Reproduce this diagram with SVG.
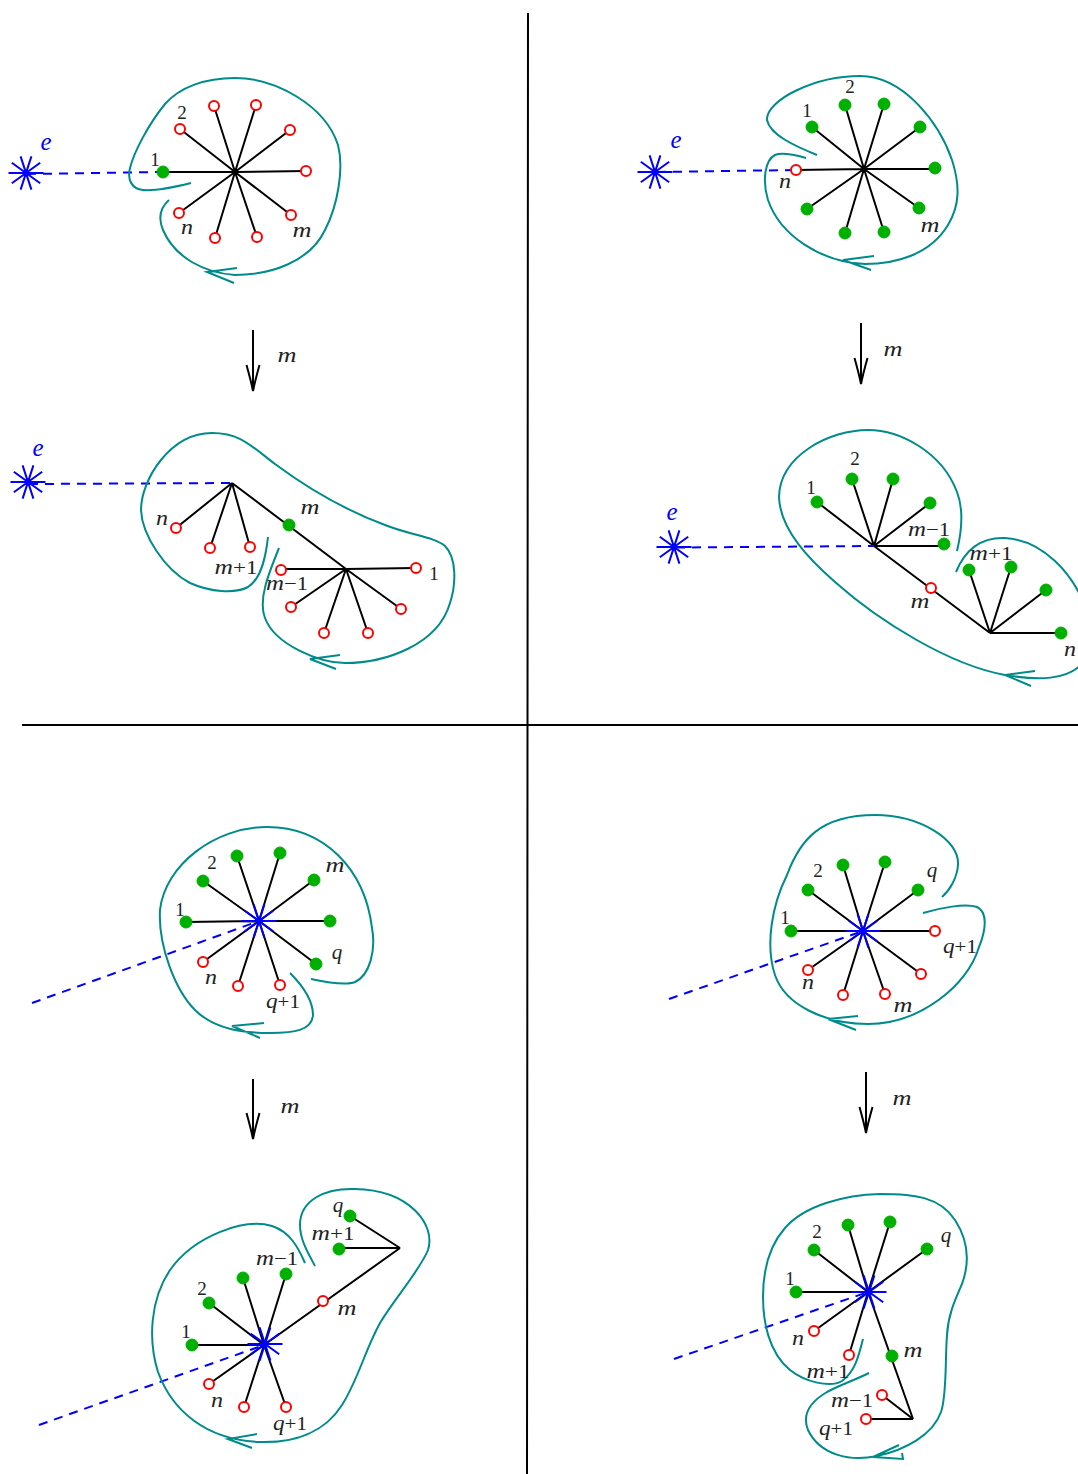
<svg xmlns="http://www.w3.org/2000/svg" width="1078" height="1474" viewBox="0 0 1078 1474">
<style>
text{font-family:"Liberation Serif","Times New Roman",serif;font-size:19px;fill:#222;text-anchor:middle}
.i{font-style:italic;font-size:21px}
tspan.i{font-size:21px}
.ee{font-style:italic;font-size:25px;fill:#00f}
.edge{fill:none;stroke:#000;stroke-width:2}
.div{stroke:#000;stroke-width:2}
.dash{fill:none;stroke:#00f;stroke-width:2;stroke-dasharray:9 7}
.curve{fill:none;stroke:#008b8b;stroke-width:2}
.star{fill:none;stroke:#00f;stroke-width:2}
.g{fill:#00b000;stroke:#00b000;stroke-width:1}
.r{fill:#fff;stroke:#f00;stroke-width:2}
.arrow{fill:none;stroke:#000;stroke-width:2}
</style>
<defs>
<g id="s"><path class="star" d="M-17.500 0H17.500M-14.200 -10.300L14.200 10.300M-14.200 10.300L14.200 -10.300M-5.400 -16.600L5.400 16.600M-5.400 16.600L5.400 -16.600"/></g>
<circle id="gn" class="g" r="6"/>
<circle id="rn" class="r" r="5"/>
<path id="ah" class="arrow" d="M-6.500 -26Q-2 -10 0 0Q2 -10 6.500 -26"/>
</defs>

<g id="connectors">
<path class="div" d="M528 13L527 1474M22 725H1078"/>
<path class="edge" d="M235 172H163M235 172L180 129M235 172L214 106M235 172L256 105M235 172L290 130M235 172L306 171M235 172L291 215M235 172L257 237M235 172L215 238M235 172L179 213"/>
<path class="edge" d="M864 169L796 170M864 169L812 127M864 169L845 105M864 169L884 104M864 169L920 127M864 169H935M864 169L919 208M864 169L884 232M864 169L845 233M864 169L807 209"/>
<path class="edge" d="M232 483L176 528M232 483L210 548M232 483L250 547M232 483L346 569M346 569H281M346 569L416 568M346 569L291 607M346 569L324 633M346 569L368 633M346 569L401 609"/>
<path class="edge" d="M874 546L817 502M874 546L852 479M874 546L893 479M874 546L930 503M874 546H944M874 546L990 633M990 633L969 570M990 633L1011 567M990 633L1046 590M990 633H1061"/>
<path class="edge" d="M259 921L186 922M259 921L203 881M259 921L237 856M259 921L280 853M259 921L314 880M259 921H330M259 921L316 964M259 921L280 985M259 921L238 986M259 921L203 962"/>
<path class="edge" d="M863 931H791M863 931L808 890M863 931L843 865M863 931L885 862M863 931L918 890M863 931H935M863 931L921 974M863 931L885 994M863 931L843 995M863 931L808 970"/>
<path class="edge" d="M264 1345H192M264 1345L209 1303M264 1345L243 1278M264 1345L286 1274M264 1345L400 1248M400 1248H339M400 1248L350 1216M264 1345L209 1384M264 1345L244 1407M264 1345L286 1407"/>
<path class="edge" d="M868 1292H796M868 1292L814 1250M868 1292L848 1225M868 1292L890 1222M868 1292L927 1249M868 1292L814 1331M868 1292L849 1355M868 1292L913 1419M913 1419L882 1395M913 1419H866"/>
<path class="dash" d="M27 174L163 172M657 172L796 170M29 484L232 483M676 547.500L874 546M32 1003L259 921M669 999L863 931M39 1425L264 1345M674 1359L868 1292"/>
<path class="curve" d="M191 183C175 187 155 191 143 190C132 189 127 180 130 168C134 152 148 125 165 104C180 87 205 78 235 78C275 78 325 105 338 145C344 168 338 205 325 230C310 262 270 275 235 275C205 273 175 258 163 230C158 218 160 208 169 200M237 268L207 272L234 283"/>
<path class="curve" d="M817 155C795 146 770 135 767 120C766 100 815 76 860 76C905 76 940 125 952 160C960 185 960 205 948 225C930 255 895 264 865 264C820 262 780 235 768 200C762 180 765 160 775 155C782 152 795 155 806 158M874 256L843 260L871 270"/>
<path class="curve" d="M268 537C266 555 262 578 248 587C235 594 210 592 190 583C165 570 142 535 141 510C141 480 170 433 212 433C240 433 250 445 275 464C310 490 350 512 385 525C410 535 435 537 445 546C457 558 456 585 450 603C438 645 385 663 345 663C320 663 275 645 265 618C258 600 268 575 279 548M340 655L310 659L336 669"/>
<path class="curve" d="M957 551C962 530 964 510 957 492C942 452 900 430 868 430C830 430 780 455 779 497C780 530 810 560 835 582C880 622 950 665 1005 675C1035 680 1070 682 1085 660L1090 620C1075 570 1040 540 1005 538C980 537 965 550 956 572M1035 671L1005 675L1031 686"/>
<path class="curve" d="M311 979C325 982 345 986 355 982C370 975 376 950 372 928C365 870 325 827 267 827C215 827 165 865 160 910C158 945 175 990 195 1010C215 1030 245 1033 270 1033C295 1033 312 1030 313 1015C313 1000 302 985 290 973M264 1023L232 1026L260 1038"/>
<path class="curve" d="M923 913C940 908 965 903 977 907C988 912 986 930 979 947C968 985 920 1024 868 1024C825 1024 785 1005 775 975C765 945 772 905 787 875C800 840 820 815 875 815C920 815 960 840 958 865C957 878 950 890 942 897M858 1016L828 1019L856 1030"/>
<path class="curve" d="M305 1263C298 1247 290 1232 272 1226C245 1218 195 1235 170 1270C150 1300 148 1340 158 1372C172 1410 205 1440 260 1442C295 1443 325 1432 342 1405C358 1380 365 1350 380 1323C395 1298 420 1270 428 1250C436 1225 410 1190 355 1189C325 1188 300 1200 300 1225C300 1240 308 1253 315 1266M257 1434L228 1439L252 1448"/>
<path class="curve" d="M863 1339C859 1355 855 1372 842 1381C830 1388 805 1382 790 1370C768 1352 763 1320 763 1297C763 1270 770 1245 785 1228C805 1205 845 1195 880 1194C915 1194 940 1197 955 1220C968 1240 970 1262 962 1284C955 1300 948 1315 947 1335C945 1360 947 1395 941 1412C933 1435 905 1450 877 1456C850 1462 820 1455 808 1430C802 1415 810 1402 827 1392C840 1385 855 1380 869 1373M899 1445L873 1457L903 1459L902 1453"/>
<path class="arrow" d="M253 330V390M861 323V383M253 1079V1138M866 1072V1132"/>
<use href="#ah" x="253" y="391"/>
<use href="#ah" x="861" y="384"/>
<use href="#ah" x="253" y="1139"/>
<use href="#ah" x="866" y="1133"/>
</g>

<g id="panel-a">
<g id="a-star"><use href="#s" x="26" y="173"/><text class="ee" x="46" y="150">e</text></g>
<g id="a1"><use href="#gn" x="163" y="172"/><text x="155" y="166">1</text></g>
<g id="a2"><use href="#rn" x="180" y="129"/><text x="182" y="119">2</text></g>
<g id="a3"><use href="#rn" x="214" y="106"/></g>
<g id="a4"><use href="#rn" x="256" y="105"/></g>
<g id="a5"><use href="#rn" x="290" y="130"/></g>
<g id="a6"><use href="#rn" x="306" y="171"/></g>
<g id="a7"><use href="#rn" x="291" y="215"/><text class="i" x="302" y="237" textLength="19" lengthAdjust="spacingAndGlyphs">m</text></g>
<g id="a8"><use href="#rn" x="257" y="237"/></g>
<g id="a9"><use href="#rn" x="215" y="238"/></g>
<g id="a10"><use href="#rn" x="179" y="213"/><text class="i" x="187" y="234" textLength="12" lengthAdjust="spacingAndGlyphs">n</text></g>
<text class="i" x="287" y="362" textLength="19" lengthAdjust="spacingAndGlyphs">m</text>
</g>

<g id="panel-b">
<g id="b-star"><use href="#s" x="655" y="172"/><text class="ee" x="676" y="148">e</text></g>
<g id="b1"><use href="#gn" x="812" y="127"/><text x="807" y="117">1</text></g>
<g id="b2"><use href="#gn" x="845" y="105"/><text x="850" y="93">2</text></g>
<g id="b3"><use href="#gn" x="884" y="104"/></g>
<g id="b4"><use href="#gn" x="920" y="127"/></g>
<g id="b5"><use href="#gn" x="935" y="168"/></g>
<g id="b6"><use href="#gn" x="919" y="208"/><text class="i" x="930" y="232" textLength="19" lengthAdjust="spacingAndGlyphs">m</text></g>
<g id="b7"><use href="#gn" x="884" y="232"/></g>
<g id="b8"><use href="#gn" x="845" y="233"/></g>
<g id="b9"><use href="#gn" x="807" y="209"/></g>
<g id="b10"><use href="#rn" x="796" y="170"/><text class="i" x="785" y="188" textLength="12" lengthAdjust="spacingAndGlyphs">n</text></g>
<text class="i" x="893" y="356" textLength="19" lengthAdjust="spacingAndGlyphs">m</text>
</g>

<g id="panel-c">
<g id="c-star"><use href="#s" x="28" y="482"/><text class="ee" x="38" y="456">e</text></g>
<g id="c1"><use href="#rn" x="176" y="528"/><text class="i" x="162" y="525" textLength="12" lengthAdjust="spacingAndGlyphs">n</text></g>
<g id="c2"><use href="#rn" x="210" y="548"/></g>
<g id="c3"><use href="#rn" x="250" y="547"/><text x="236" y="574" textLength="43" lengthAdjust="spacingAndGlyphs"><tspan class="i">m</tspan>+1</text></g>
<g id="c4"><use href="#gn" x="289" y="525"/><text class="i" x="310" y="514" textLength="19" lengthAdjust="spacingAndGlyphs">m</text></g>
<g id="c5"><use href="#rn" x="281" y="570"/><text x="287" y="590" textLength="42" lengthAdjust="spacingAndGlyphs"><tspan class="i">m</tspan>−1</text></g>
<g id="c6"><use href="#rn" x="416" y="568"/><text x="434" y="580">1</text></g>
<g id="c7"><use href="#rn" x="291" y="607"/></g>
<g id="c8"><use href="#rn" x="324" y="633"/></g>
<g id="c9"><use href="#rn" x="368" y="633"/></g>
<g id="c10"><use href="#rn" x="401" y="609"/></g>
</g>

<g id="panel-d">
<g id="d-star"><use href="#s" x="674" y="547"/><text class="ee" x="672" y="520">e</text></g>
<g id="d1"><use href="#gn" x="817" y="502"/><text x="811" y="494">1</text></g>
<g id="d2"><use href="#gn" x="852" y="479"/><text x="855" y="465">2</text></g>
<g id="d3"><use href="#gn" x="893" y="479"/></g>
<g id="d4"><use href="#gn" x="930" y="503"/></g>
<g id="d5"><use href="#gn" x="944" y="544"/><text x="929" y="536" textLength="42" lengthAdjust="spacingAndGlyphs"><tspan class="i">m</tspan>−1</text></g>
<g id="d6"><use href="#rn" x="931" y="588"/><text class="i" x="920" y="608" textLength="19" lengthAdjust="spacingAndGlyphs">m</text></g>
<g id="d7"><use href="#gn" x="969" y="570"/><text x="991" y="560" textLength="43" lengthAdjust="spacingAndGlyphs"><tspan class="i">m</tspan>+1</text></g>
<g id="d8"><use href="#gn" x="1011" y="567"/></g>
<g id="d9"><use href="#gn" x="1046" y="590"/></g>
<g id="d10"><use href="#gn" x="1061" y="633"/><text class="i" x="1070" y="656" textLength="12" lengthAdjust="spacingAndGlyphs">n</text></g>
</g>

<g id="panel-e">
<g id="e1"><use href="#gn" x="186" y="922"/><text x="180" y="916">1</text></g>
<g id="e2"><use href="#gn" x="203" y="881"/><text x="212" y="869">2</text></g>
<g id="e3"><use href="#gn" x="237" y="856"/></g>
<g id="e4"><use href="#gn" x="280" y="853"/></g>
<g id="e5"><use href="#gn" x="314" y="880"/><text class="i" x="335" y="872" textLength="19" lengthAdjust="spacingAndGlyphs">m</text></g>
<g id="e6"><use href="#gn" x="330" y="921"/></g>
<g id="e7"><use href="#gn" x="316" y="964"/><text class="i" x="337" y="959">q</text></g>
<g id="e8"><use href="#rn" x="280" y="985"/><text x="283" y="1008" textLength="34" lengthAdjust="spacingAndGlyphs"><tspan class="i">q</tspan>+1</text></g>
<g id="e9"><use href="#rn" x="238" y="986"/></g>
<g id="e10"><use href="#rn" x="203" y="962"/><text class="i" x="211" y="984" textLength="12" lengthAdjust="spacingAndGlyphs">n</text></g>
<g id="e-star"><use href="#s" x="259" y="921"/></g>
<text class="i" x="290" y="1113" textLength="19" lengthAdjust="spacingAndGlyphs">m</text>
</g>

<g id="panel-f">
<g id="f1"><use href="#gn" x="791" y="931"/><text x="785" y="924">1</text></g>
<g id="f2"><use href="#gn" x="808" y="890"/><text x="818" y="877">2</text></g>
<g id="f3"><use href="#gn" x="843" y="865"/></g>
<g id="f4"><use href="#gn" x="885" y="862"/></g>
<g id="f5"><use href="#gn" x="918" y="890"/><text class="i" x="932" y="877">q</text></g>
<g id="f6"><use href="#rn" x="935" y="931"/><text x="960" y="953" textLength="34" lengthAdjust="spacingAndGlyphs"><tspan class="i">q</tspan>+1</text></g>
<g id="f7"><use href="#rn" x="921" y="974"/></g>
<g id="f8"><use href="#rn" x="885" y="994"/><text class="i" x="903" y="1012" textLength="19" lengthAdjust="spacingAndGlyphs">m</text></g>
<g id="f9"><use href="#rn" x="843" y="995"/></g>
<g id="f10"><use href="#rn" x="808" y="970"/><text class="i" x="808" y="989" textLength="12" lengthAdjust="spacingAndGlyphs">n</text></g>
<g id="f-star"><use href="#s" x="863" y="931"/></g>
<text class="i" x="902" y="1105" textLength="19" lengthAdjust="spacingAndGlyphs">m</text>
</g>

<g id="panel-g">
<g id="g1"><use href="#gn" x="192" y="1345"/><text x="186" y="1338">1</text></g>
<g id="g2"><use href="#gn" x="209" y="1303"/><text x="202" y="1295">2</text></g>
<g id="g3"><use href="#gn" x="243" y="1278"/></g>
<g id="g4"><use href="#gn" x="286" y="1274"/><text x="277" y="1265" textLength="42" lengthAdjust="spacingAndGlyphs"><tspan class="i">m</tspan>−1</text></g>
<g id="g5"><use href="#rn" x="323" y="1301"/><text class="i" x="347" y="1315" textLength="19" lengthAdjust="spacingAndGlyphs">m</text></g>
<g id="g6"><use href="#gn" x="339" y="1249"/><text x="333" y="1240" textLength="43" lengthAdjust="spacingAndGlyphs"><tspan class="i">m</tspan>+1</text></g>
<g id="g7"><use href="#gn" x="350" y="1216"/><text class="i" x="338" y="1212">q</text></g>
<g id="g8"><use href="#rn" x="209" y="1384"/><text class="i" x="217" y="1407" textLength="12" lengthAdjust="spacingAndGlyphs">n</text></g>
<g id="g9"><use href="#rn" x="244" y="1407"/></g>
<g id="g10"><use href="#rn" x="286" y="1407"/><text x="290" y="1430" textLength="34" lengthAdjust="spacingAndGlyphs"><tspan class="i">q</tspan>+1</text></g>
<g id="g-star"><use href="#s" x="265" y="1344"/></g>
</g>

<g id="panel-h">
<g id="h1"><use href="#gn" x="796" y="1292"/><text x="790" y="1285">1</text></g>
<g id="h2"><use href="#gn" x="814" y="1250"/><text x="817" y="1238">2</text></g>
<g id="h3"><use href="#gn" x="848" y="1225"/></g>
<g id="h4"><use href="#gn" x="890" y="1222"/></g>
<g id="h5"><use href="#gn" x="927" y="1249"/><text class="i" x="946" y="1242">q</text></g>
<g id="h6"><use href="#rn" x="814" y="1331"/><text class="i" x="798" y="1345" textLength="12" lengthAdjust="spacingAndGlyphs">n</text></g>
<g id="h7"><use href="#rn" x="849" y="1355"/><text x="828" y="1378" textLength="43" lengthAdjust="spacingAndGlyphs"><tspan class="i">m</tspan>+1</text></g>
<g id="h8"><use href="#gn" x="892" y="1356"/><text class="i" x="913" y="1357" textLength="19" lengthAdjust="spacingAndGlyphs">m</text></g>
<g id="h9"><use href="#rn" x="882" y="1395"/><text x="852" y="1407" textLength="42" lengthAdjust="spacingAndGlyphs"><tspan class="i">m</tspan>−1</text></g>
<g id="h10"><use href="#rn" x="866" y="1419"/><text x="836" y="1435" textLength="34" lengthAdjust="spacingAndGlyphs"><tspan class="i">q</tspan>+1</text></g>
<g id="h-star"><use href="#s" x="869" y="1292"/></g>
</g>
</svg>
